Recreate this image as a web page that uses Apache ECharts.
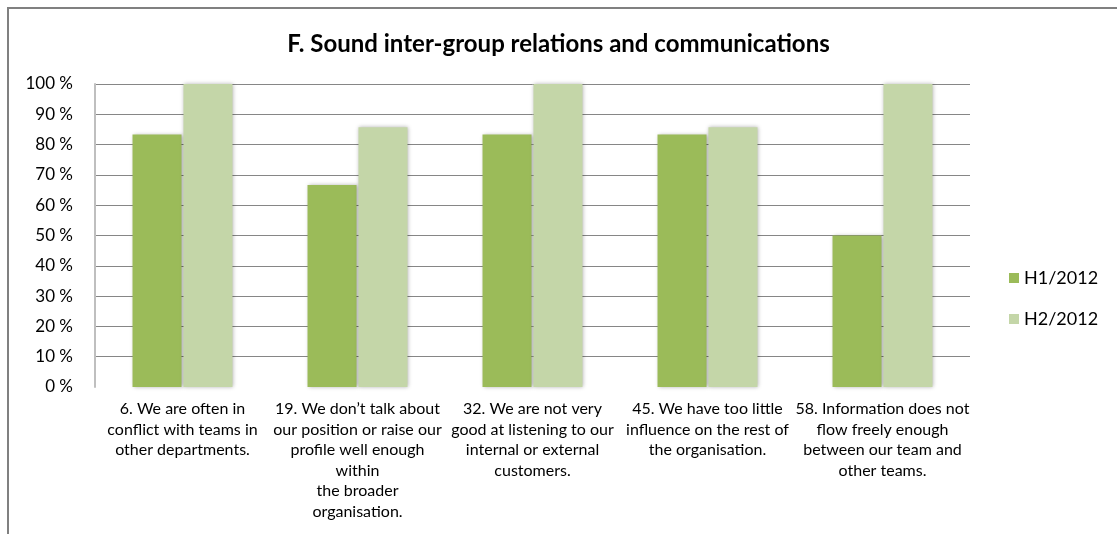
<!DOCTYPE html>
<html>
<head>
<meta charset="utf-8">
<script src="https://cdn.jsdelivr.net/npm/echarts@6/dist/echarts.min.js"></script>
<style>html,body{margin:0;padding:0;background:#fff}#c{width:1117px;height:534px}</style>
</head>
<body>
<div id="c"></div>
<script>
var titleText = 'F. Sound inter-group relations and communications';
var categories = [
  '6. We are often in\nconflict with teams in\nother departments.',
  '19. We don\u2019t talk about\nour position or raise our\nprofile well enough\nwithin\nthe broader\norganisation.',
  '32. We are not very\ngood at listening to our\ninternal or external\ncustomers.',
  '45. We have too little\ninfluence on the rest of\nthe organisation.',
  '58. Information does not\nflow freely enough\nbetween our team and\nother teams.'
];
var seriesNames = ['H1/2012', 'H2/2012'];
var h1Values = [83.3, 66.7, 83.3, 83.3, 50.0];
var h2Values = [100, 85.7, 100, 85.7, 100];

var FONT = 'Lato, "Open Sans", sans-serif';
var chart = echarts.init(document.getElementById('c'));
var barShadow = {shadowBlur: 4, shadowColor: 'rgba(0,0,0,0.3)', shadowOffsetX: 1, shadowOffsetY: 0};
chart.setOption({
  animation: false,
  backgroundColor: '#fff',
  title: {
    text: titleText, left: 'center', top: 27,
    textStyle: {fontFamily: FONT, fontSize: 24, fontWeight: 'bold', color: '#000'}
  },
  graphic: [{
    type: 'rect', silent: true,
    shape: {x: 8, y: 8, width: 1200, height: 600},
    style: {fill: 'none', stroke: '#808080', lineWidth: 2}
  }],
  legend: {
    orient: 'vertical', left: 1004, top: 264,
    itemWidth: 10, itemHeight: 10, itemGap: 23,
    icon: 'rect',
    textStyle: {fontFamily: FONT, fontSize: 18, color: '#000'},
    data: seriesNames
  },
  grid: {left: 95, right: 147, top: 84, bottom: 147},
  xAxis: {
    type: 'category', data: categories,
    axisLine: {show: false}, axisTick: {show: false},
    axisLabel: {interval: 0, margin: 12, fontFamily: FONT, fontSize: 16, lineHeight: 20.5, color: '#000'}
  },
  yAxis: {
    type: 'value', min: 0, max: 100, interval: 10,
    axisLine: {show: true, lineStyle: {color: '#bfbfbf', width: 2}},
    axisTick: {show: false},
    axisLabel: {formatter: '{value} %', margin: 22, fontFamily: FONT, fontSize: 17, color: '#000'},
    splitLine: {show: true, showMinLine: false, lineStyle: {color: '#868686', width: 1}}
  },
  series: [
    {name: seriesNames[0], type: 'bar', data: h1Values, barWidth: 49, barGap: '4%',
     itemStyle: Object.assign({color: '#9BBB59'}, barShadow)},
    {name: seriesNames[1], type: 'bar', data: h2Values, barWidth: 49,
     itemStyle: Object.assign({color: '#C4D6A8'}, barShadow)}
  ]
});
</script>
</body>
</html>
